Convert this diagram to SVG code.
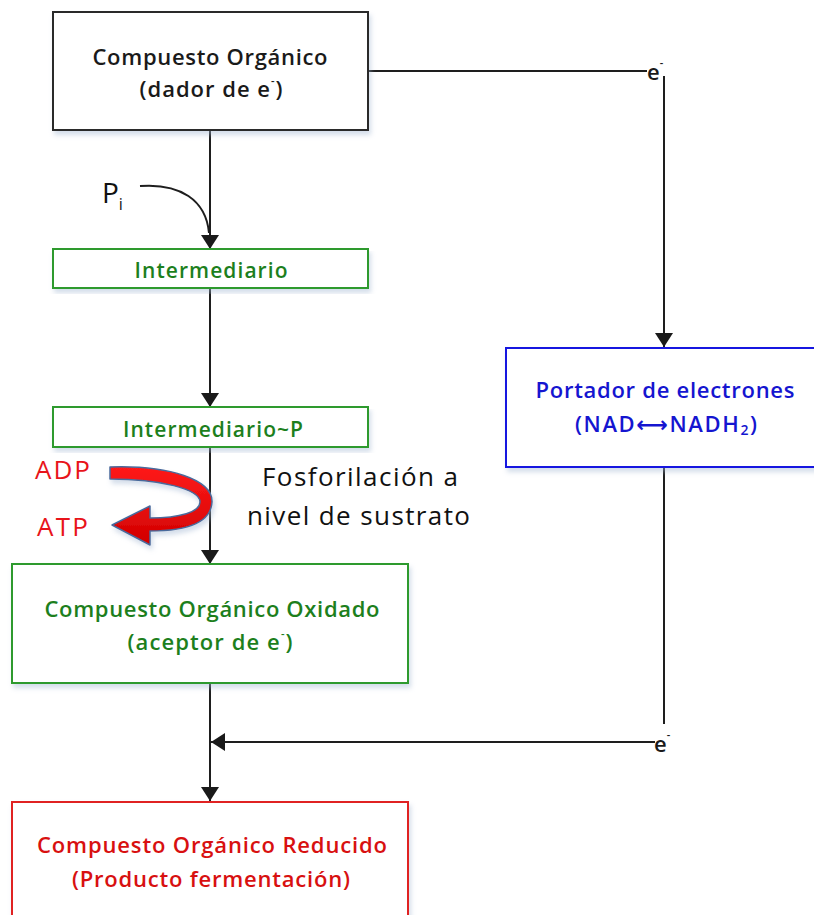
<svg xmlns="http://www.w3.org/2000/svg" width="814" height="915" viewBox="0 0 814 915">
  <defs>
    <filter id="shadow" x="-5%" y="-5%" width="112%" height="120%">
      <feGaussianBlur in="SourceAlpha" stdDeviation="2.5"/>
      <feOffset dx="2" dy="4" result="b"/>
      <feFlood flood-color="#9fb4d0" flood-opacity="0.45"/>
      <feComposite in2="b" operator="in"/>
      <feMerge><feMergeNode/><feMergeNode in="SourceGraphic"/></feMerge>
    </filter>
    <marker id="arrow" viewBox="0 0 14 18" refX="14" refY="9" markerWidth="14" markerHeight="18" markerUnits="userSpaceOnUse" orient="auto">
      <path d="M0,0 L14,9 L0,18 Z" fill="#1a1a1a"/>
    </marker>
    <linearGradient id="redband" x1="0" y1="0" x2="0" y2="1">
      <stop offset="0" stop-color="#ff1a1a"/>
      <stop offset="1" stop-color="#d00000"/>
    </linearGradient>
  </defs>
  <style>
    .box { fill: #ffffff; stroke-width: 2; filter: url(#shadow); }
    .lbl { font-family: "Open Sans", "Noto Sans", sans-serif; font-weight: 600; text-anchor: middle; }
    .big { font-family: "Open Sans", "Noto Sans", sans-serif; font-size: 26px; fill: #111; }
    .wire { fill: none; stroke: #1e1e1e; stroke-width: 2; }
    .sup { font-size: 11px; }
    .arw { font-family: "DejaVu Sans", sans-serif; font-weight: bold; }
    .elec { font-family: "Open Sans", sans-serif; font-weight: 600; font-size: 22px; fill: #1a1a1a; }
  </style>

  <rect width="814" height="915" fill="#ffffff"/>

  <!-- connectors -->
  <g id="connectors">
    <line class="wire" x1="210" y1="131" x2="210" y2="249" marker-end="url(#arrow)"/>
    <path class="wire" d="M140,186 C180,183 206,200 209,233"/>
    <line class="wire" x1="210" y1="289" x2="210" y2="407" marker-end="url(#arrow)"/>
    <line class="wire" x1="210" y1="447" x2="210" y2="564" marker-end="url(#arrow)"/>
    <line class="wire" x1="210" y1="684" x2="210" y2="801" marker-end="url(#arrow)"/>
    <!-- electron donor to carrier -->
    <line class="wire" x1="369" y1="71" x2="647" y2="71"/>
    <line class="wire" x1="664" y1="76" x2="664" y2="347" marker-end="url(#arrow)"/>
    <!-- carrier back to main path -->
    <line class="wire" x1="664" y1="468" x2="664" y2="724"/>
    <line class="wire" x1="655" y1="742" x2="211" y2="742" marker-end="url(#arrow)"/>
    <text class="elec" x="647" y="80">e<tspan class="sup" dy="-13">-</tspan></text>
    <text class="elec" x="654" y="752">e<tspan class="sup" dy="-13">-</tspan></text>
  </g>

  <!-- inorganic phosphate -->
  <g id="pi">
    <text x="102" y="203" font-family="Open Sans, sans-serif" font-size="28" fill="#111">P<tspan font-size="16" dy="7">i</tspan></text>
  </g>

  <!-- ADP / ATP turning arrow -->
  <g id="atp">
    <path d="M110,467 C170,465 213,480 212,502 C211,521 190,531 150,531 L150,545 L112,525 L150,506 L150,518 C180,518 200,512 200,502 C200,489 160,479 110,479 Z"
          fill="url(#redband)" stroke="#4a6a9c" stroke-width="1.5" stroke-linejoin="round" filter="url(#shadow)"/>
    <text x="35" y="479" font-family="Open Sans, Noto Sans, sans-serif" font-size="26" fill="#e8141a" textLength="55">ADP</text>
    <text x="37" y="536" font-family="Open Sans, Noto Sans, sans-serif" font-size="26" fill="#e8141a" textLength="51">ATP</text>
  </g>

  <g id="fosforilacion">
    <text class="big" x="262" y="486" textLength="196">Fosforilación a</text>
    <text class="big" x="247" y="525" textLength="223">nivel de sustrato</text>
  </g>

  <g id="donor">
    <rect class="box" x="53" y="12" width="315" height="118" stroke="#2a2a2a"/>
    <text class="lbl" x="210" y="65" font-size="22" fill="#1a1a1a" textLength="235">Compuesto Orgánico</text>
    <text class="lbl" x="211" y="97" font-size="22" fill="#1a1a1a" textLength="143">(dador de e<tspan class="sup" dy="-12">-</tspan><tspan dy="12">)</tspan></text>
  </g>

  <g id="intermediario">
    <rect class="box" x="53" y="249" width="315" height="39" stroke="#2e9a2e"/>
    <text class="lbl" x="211" y="278" font-size="21" fill="#1d7f1d" textLength="153">Intermediario</text>
  </g>

  <g id="intermediario-p">
    <rect class="box" x="53" y="407" width="315" height="40" stroke="#2e9a2e"/>
    <text class="lbl" x="213" y="437" font-size="21" fill="#1d7f1d" textLength="180">Intermediario~P</text>
  </g>

  <g id="oxidado">
    <rect class="box" x="12" y="564" width="396" height="119" stroke="#2e9a2e"/>
    <text class="lbl" x="212" y="617" font-size="22" fill="#1d7f1d" textLength="335">Compuesto Orgánico Oxidado</text>
    <text class="lbl" x="210" y="650" font-size="22" fill="#1d7f1d" textLength="165">(aceptor de e<tspan class="sup" dy="-12">-</tspan><tspan dy="12">)</tspan></text>
  </g>

  <g id="portador">
    <rect class="box" x="506" y="348" width="316" height="119" stroke="#1212e0"/>
    <text class="lbl" x="665" y="398" font-size="22" fill="#1515d0" textLength="259">Portador de electrones</text>
    <text class="lbl" x="666" y="432" font-size="22" fill="#1515d0" textLength="182">(NAD<tspan class="arw">⟷</tspan>NADH<tspan font-size="14" dy="3">2</tspan><tspan dy="-3">)</tspan></text>
  </g>

  <g id="reducido">
    <rect class="box" x="12" y="802" width="396" height="130" stroke="#e02020"/>
    <text class="lbl" x="212" y="853" font-size="22" fill="#d81010" textLength="350">Compuesto Orgánico Reducido</text>
    <text class="lbl" x="211" y="887" font-size="22" fill="#d81010" textLength="278">(Producto fermentación)</text>
  </g>
</svg>
